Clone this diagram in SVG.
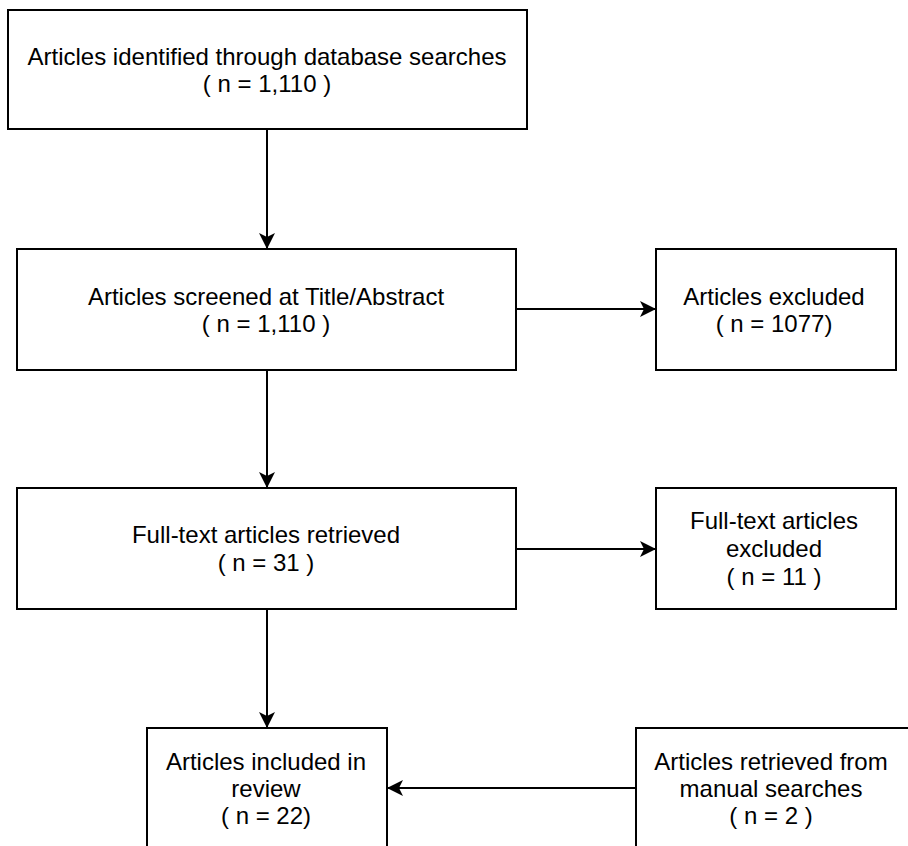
<svg xmlns="http://www.w3.org/2000/svg" width="908" height="846" viewBox="0 0 908 846">
<style>
.box{fill:#ffffff;stroke:#000000;stroke-width:2}
.lbl{font-family:"Liberation Sans",Arial,Helvetica,sans-serif;font-size:24px;fill:#000000;text-anchor:middle}
.edge{stroke:#000000;stroke-width:2;fill:none;marker-end:url(#ah)}
</style>
<defs>
<marker id="ah" markerUnits="userSpaceOnUse" markerWidth="18" markerHeight="18" viewBox="0 0 18 18" refX="17" refY="9" orient="auto">
<path d="M1,1 L17,9 L1,17 L5,9 Z" fill="#000000"/>
</marker>
</defs>
<rect x="0" y="0" width="908" height="846" fill="#ffffff"/>
<g id="connectors">
<line class="edge" x1="267" y1="129" x2="267" y2="249"/>
<line class="edge" x1="516" y1="309" x2="656" y2="309"/>
<line class="edge" x1="267" y1="370" x2="267" y2="488"/>
<line class="edge" x1="516" y1="549" x2="656" y2="549"/>
<line class="edge" x1="267" y1="609" x2="267" y2="728"/>
<line class="edge" x1="636" y1="788" x2="387" y2="788"/>
</g>
<g id="identified">
<rect class="box" x="8" y="10" width="519" height="119"/>
<text class="lbl" x="267" y="65">Articles identified through database searches</text>
<text class="lbl" x="267" y="92">( n = 1,110 )</text>
</g>
<g id="screened">
<rect class="box" x="17" y="249" width="499" height="121"/>
<text class="lbl" x="266" y="305">Articles screened at Title/Abstract</text>
<text class="lbl" x="266" y="332">( n = 1,110 )</text>
</g>
<g id="excluded1">
<rect class="box" x="656" y="249" width="240" height="121"/>
<text class="lbl" x="774" y="305">Articles excluded</text>
<text class="lbl" x="774" y="332">( n = 1077)</text>
</g>
<g id="retrieved">
<rect class="box" x="17" y="488" width="499" height="121"/>
<text class="lbl" x="266" y="543">Full-text articles retrieved</text>
<text class="lbl" x="266" y="571">( n = 31 )</text>
</g>
<g id="excluded2">
<rect class="box" x="656" y="488" width="240" height="121"/>
<text class="lbl" x="774" y="529">Full-text articles</text>
<text class="lbl" x="774" y="557">excluded</text>
<text class="lbl" x="774" y="585">( n = 11 )</text>
</g>
<g id="included">
<rect class="box" x="147" y="728" width="240" height="130"/>
<text class="lbl" x="266" y="770">Articles included in</text>
<text class="lbl" x="266" y="797">review</text>
<text class="lbl" x="266" y="824">( n = 22)</text>
</g>
<g id="manual">
<rect class="box" x="636" y="728" width="280" height="130"/>
<text class="lbl" x="771" y="770">Articles retrieved from</text>
<text class="lbl" x="771" y="797">manual searches</text>
<text class="lbl" x="771" y="824">( n = 2 )</text>
</g>
</svg>
